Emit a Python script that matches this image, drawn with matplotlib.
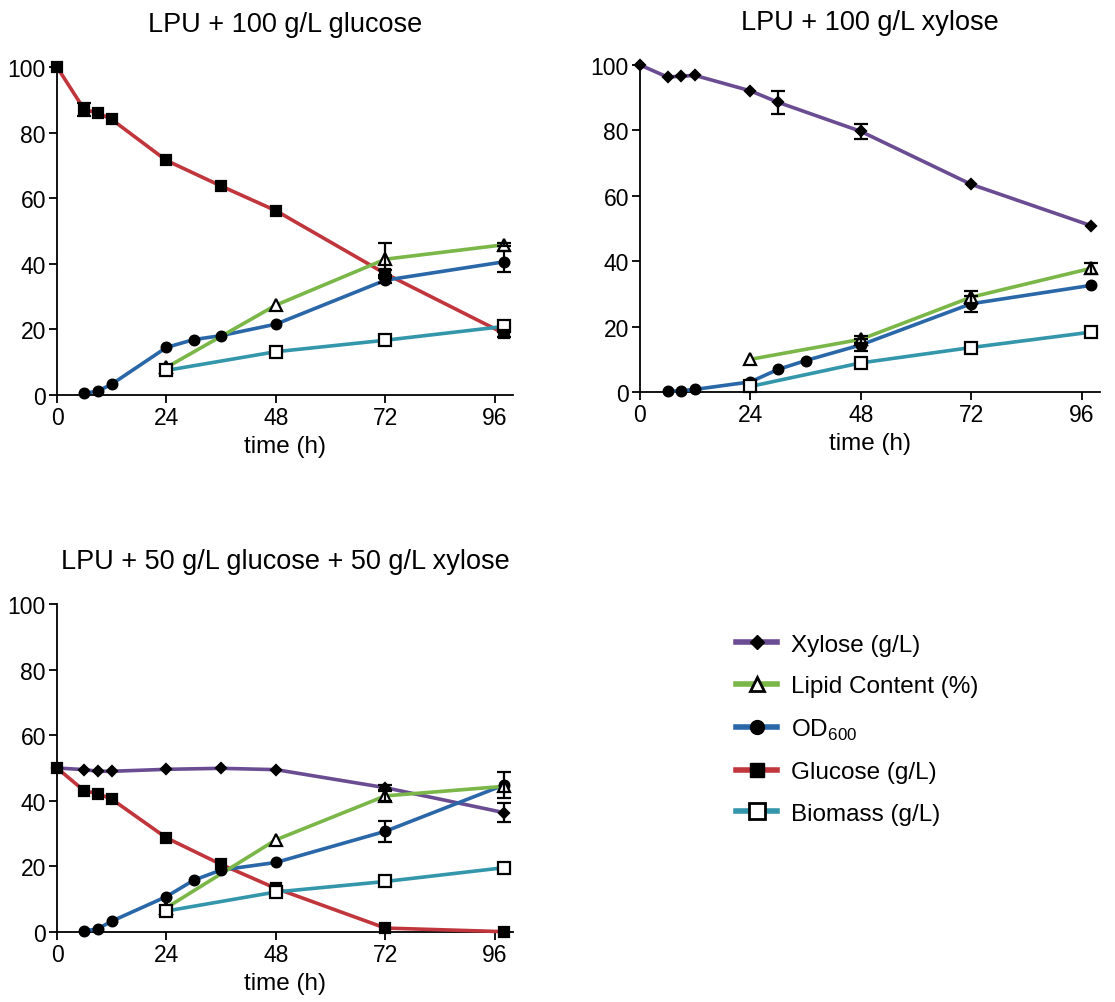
import numpy as np
import matplotlib
matplotlib.use("Agg")
import matplotlib.pyplot as plt
from matplotlib.lines import Line2D

plt.rcParams['font.family'] = ['Liberation Sans', 'DejaVu Sans']
plt.rcParams['mathtext.fontset'] = 'custom'
plt.rcParams['mathtext.rm'] = 'Liberation Sans'

# time points (h)
t_od = [6, 9, 12, 24, 30, 36, 48, 72, 98]
t_lip = [24, 48, 72, 98]

# panel 1: 100 g/L glucose
g1_t = [0, 6, 9, 12, 24, 36, 48, 72, 98]
g1_glc = [100, 87, 86, 84, 71.5, 63.7, 56.2, 37, 18.8]
g1_glc_err = [0, 2, 0, 0, 0, 0, 0, 1, 1]
g1_od = [0.5, 1.2, 3.3, 14.5, 16.9, 18.1, 21.6, 35, 40.6]
g1_od_err = [0, 0, 0, 0, 0, 0, 0, 0.8, 3.2]
g1_lip = [8.4, 27.4, 41.4, 45.8]
g1_lip_err = [0, 0, 4.9, 0.5]
g1_bio = [7.5, 13.2, 16.7, 20.9]

# panel 2: 100 g/L xylose
x2_t = [0, 6, 9, 12, 24, 30, 48, 72, 98]
x2_xyl = [100, 96.3, 96.6, 96.8, 92.1, 88.6, 79.7, 63.5, 50.9]
x2_xyl_err = [0, 0, 0, 0, 0, 3.6, 2.3, 0, 0]
x2_od = [0.2, 0.4, 0.8, 3.1, 6.9, 9.6, 14.4, 27, 32.6]
x2_od_err = [0, 0, 0, 0, 0, 0, 1.8, 2.4, 0]
x2_lip = [10, 16.1, 29, 37.8]
x2_lip_err = [0, 1, 2, 1.8]
x2_bio = [1.7, 8.9, 13.6, 18.3]

# panel 3: 50 g/L glucose + 50 g/L xylose
m3_t = [0, 6, 9, 12, 24, 36, 48, 72, 98]
m3_xyl = [50, 49.5, 49, 49, 49.6, 49.9, 49.5, 44, 36.4]
m3_xyl_err = [0, 0, 0, 0, 0, 0, 0, 0.8, 3.0]
m3_glc = [50, 43, 42.2, 40.5, 28.7, 20.6, 13.3, 1.2, 0.1]
m3_od = [0.3, 1, 3.3, 10.8, 15.8, 18.9, 21.2, 30.7, 44.8]
m3_od_err = [0, 0, 0, 0, 0, 0, 0, 3.2, 4.0]
m3_lip = [7.4, 28.1, 41.5, 44.4]
m3_lip_err = [0, 0, 1.5, 0]
m3_bio = [6.4, 12.2, 15.4, 19.6]

c_xyl = '#6a4c93'
c_lip = '#7ab648'
c_od = '#2a67a8'
c_glc = '#c0363c'
c_bio = '#3396ab'

labels = ['Xylose (g/L)', 'Lipid Content (%)', r'OD$_{\mathregular{600}}$', 'Glucose (g/L)', 'Biomass (g/L)']

FS = 16.5
LW = 2.6


def series(ax, x, y, color, marker, err=None, face='black', ms=7, z=3):
    ax.plot(x, y, color=color, lw=LW, zorder=z, clip_on=False,
            solid_capstyle='round')
    ax.plot(x, y, ls='none', marker=marker, ms=ms, mfc=face, mec='black',
            mew=1.6, zorder=z + 5, clip_on=False)
    if err is not None:
        # only draw bars where there is an error value
        idx = [i for i, e in enumerate(err) if e > 0]
        ax.errorbar([x[i] for i in idx], [y[i] for i in idx],
                    yerr=[err[i] for i in idx], fmt='none', ecolor='black',
                    elinewidth=1.6, capsize=5, capthick=1.6, zorder=z + 6,
                    clip_on=False)


def style(ax, title):
    ax.set_xlim(0, 100)
    ax.set_ylim(0, 100)
    ax.set_xticks([0, 24, 48, 72, 96])
    ax.set_yticks([0, 20, 40, 60, 80, 100])
    ax.spines['top'].set_visible(False)
    ax.spines['right'].set_visible(False)
    ax.spines['left'].set_linewidth(1.3)
    ax.spines['bottom'].set_linewidth(1.3)
    ax.tick_params(labelsize=FS, width=1.3, length=6, pad=2)
    ax.set_xlabel('time (h)', fontsize=17.5, labelpad=4)
    ax.set_title(title, fontsize=19.5, pad=26)


fig = plt.figure(figsize=(11.15, 10.03), dpi=100)
W, H = 1115, 1003


def axes_px(l, t, r, b):
    return fig.add_axes([l / W, 1 - b / H, (r - l) / W, (b - t) / H])


ax1 = axes_px(57, 68, 513, 396)
series(ax1, g1_t, g1_glc, c_glc, 's', g1_glc_err, ms=7)
series(ax1, t_od, g1_od, c_od, 'o', g1_od_err, ms=7)
series(ax1, t_lip, g1_lip, c_lip, '^', g1_lip_err, face='white', ms=8)
series(ax1, t_lip, g1_bio, c_bio, 's', None, face='white', ms=8)
style(ax1, 'LPU + 100 g/L glucose')

ax2 = axes_px(640, 66, 1100, 393)
series(ax2, x2_t, x2_xyl, c_xyl, 'D', x2_xyl_err, ms=5)
series(ax2, t_od, x2_od, c_od, 'o', x2_od_err, ms=7)
series(ax2, t_lip, x2_lip, c_lip, '^', x2_lip_err, face='white', ms=8)
series(ax2, t_lip, x2_bio, c_bio, 's', None, face='white', ms=8)
style(ax2, 'LPU + 100 g/L xylose')

ax3 = axes_px(57, 605, 513, 933)
series(ax3, m3_t, m3_xyl, c_xyl, 'D', m3_xyl_err, ms=5)
series(ax3, m3_t, m3_glc, c_glc, 's', None, ms=7)
series(ax3, t_od, m3_od, c_od, 'o', m3_od_err, ms=7)
series(ax3, t_lip, m3_lip, c_lip, '^', m3_lip_err, face='white', ms=8)
series(ax3, t_lip, m3_bio, c_bio, 's', None, face='white', ms=8)
style(ax3, 'LPU + 50 g/L glucose + 50 g/L xylose')

handles = [
    Line2D([], [], color=c_xyl, lw=4, marker='D', ms=7, mfc='black', mec='black'),
    Line2D([], [], color=c_lip, lw=4, marker='^', ms=10, mfc='white', mec='black', mew=2),
    Line2D([], [], color=c_od, lw=4, marker='o', ms=10, mfc='black', mec='black'),
    Line2D([], [], color=c_glc, lw=4, marker='s', ms=10, mfc='black', mec='black'),
    Line2D([], [], color=c_bio, lw=4, marker='s', ms=11, mfc='white', mec='black', mew=2),
]
fig.legend(handles, labels, loc='upper left', bbox_to_anchor=(714 / W, 1 - 613 / H),
           frameon=False, fontsize=17.5, handlelength=1.7, handletextpad=0.55,
           labelspacing=0.8)

fig.savefig('out.png', dpi=100)
